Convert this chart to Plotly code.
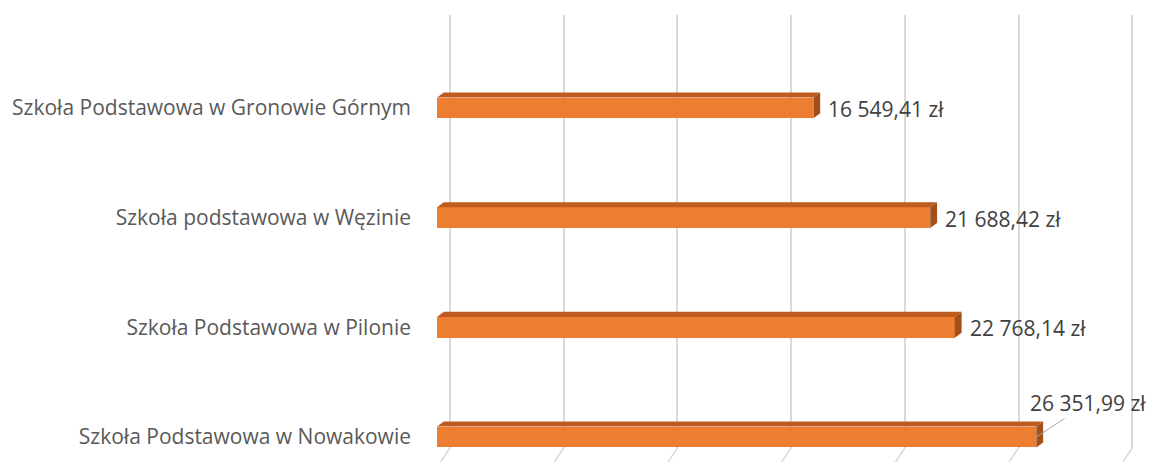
import plotly.graph_objects as go

categories = [
    "Szkoła Podstawowa w Nowakowie",
    "Szkoła Podstawowa w Pilonie",
    "Szkoła podstawowa w Węzinie",
    "Szkoła Podstawowa w Gronowie Górnym",
]
values = [26351.99, 22768.14, 21688.42, 16549.41]
grid_ticks = [0, 5000, 10000, 15000, 20000, 25000, 30000]

FRONT = "#ED7D31"
TOP = "#BF5B1F"
SIDE = "#A44F18"
FONT = "'Open Sans', 'Noto Sans', sans-serif"

def fmt(v):
    s = f"{v:,.2f}".replace(",", " ").replace(".", ",")
    return s + " zł"

ypos = list(range(len(categories)))
bar_w = 0.19
dx = 300      # depth in x data units (~7px)
dy = 0.046    # depth in y data units (~5px)
back = 571    # back-wall offset in x data units (~13px)
xmax = 31000

fig = go.Figure()
fig.add_trace(go.Bar(
    y=ypos, x=values, orientation="h", width=bar_w,
    marker=dict(color=FRONT, line=dict(width=0)),
    hoverinfo="skip", showlegend=False,
))
# invisible trace for the back-wall grid axis
fig.add_trace(go.Scatter(x=[0], y=[0], xaxis="x2", mode="markers",
                         marker=dict(opacity=0), showlegend=False, hoverinfo="skip"))

shapes = []
for y, v in zip(ypos, values):
    t = y + bar_w / 2
    b = y - bar_w / 2
    shapes.append(dict(type="path", xref="x", yref="y", line=dict(width=0), fillcolor=TOP,
                       path=f"M 0,{t} L {v},{t} L {v+dx},{t+dy} L {dx},{t+dy} Z"))
    shapes.append(dict(type="path", xref="x", yref="y", line=dict(width=0), fillcolor=SIDE,
                       path=f"M {v},{t} L {v+dx},{t+dy} L {v+dx},{b+dy} L {v},{b} Z"))
# floor lines
for g in grid_ticks:
    shapes.append(dict(type="line", xref="x2", yref="paper", x0=g, x1=g - back * 0.9,
                       y0=0, y1=-0.04, line=dict(color="#D9D9D9", width=1.5)))

annotations = []
for i, (y, v) in enumerate(zip(ypos, values)):
    if i == 0:
        annotations.append(dict(x=v, y=y, xref="x", yref="y", text=fmt(v), showarrow=True,
                                arrowhead=0, arrowwidth=1, arrowcolor="#A6A6A6",
                                ax=52, ay=-34, font=dict(family=FONT, size=21, color="#404040")))
    else:
        annotations.append(dict(x=v, y=y, xref="x", yref="y", text=fmt(v), showarrow=False,
                                xanchor="left", xshift=13, yshift=-1,
                                font=dict(family=FONT, size=21, color="#404040")))

fig.update_layout(
    template="none",
    width=1154, height=462,
    margin=dict(l=437, r=12, t=15, b=14),
    paper_bgcolor="white", plot_bgcolor="white",
    xaxis=dict(range=[0, xmax], showgrid=False, zeroline=False, showticklabels=False,
               showline=False, ticks="", automargin=False),
    xaxis2=dict(range=[-back, xmax - back], overlaying="x", side="bottom",
                tickvals=grid_ticks, showgrid=True, gridcolor="#D9D9D9", gridwidth=1.5,
                zeroline=False, showticklabels=False, showline=False, ticks="",
                automargin=False),
    yaxis=dict(range=[-0.1, 3.847], tickvals=ypos, ticktext=categories,
               showgrid=False, zeroline=False, showline=False, ticks="",
               ticklabelstandoff=25, automargin=False,
               tickfont=dict(family=FONT, size=21, color="#595959")),
    shapes=shapes,
    annotations=annotations,
    bargap=0,
)

fig.write_html("out.html", config={"displayModeBar": False},
               post_script="document.body.style.margin='0';")
